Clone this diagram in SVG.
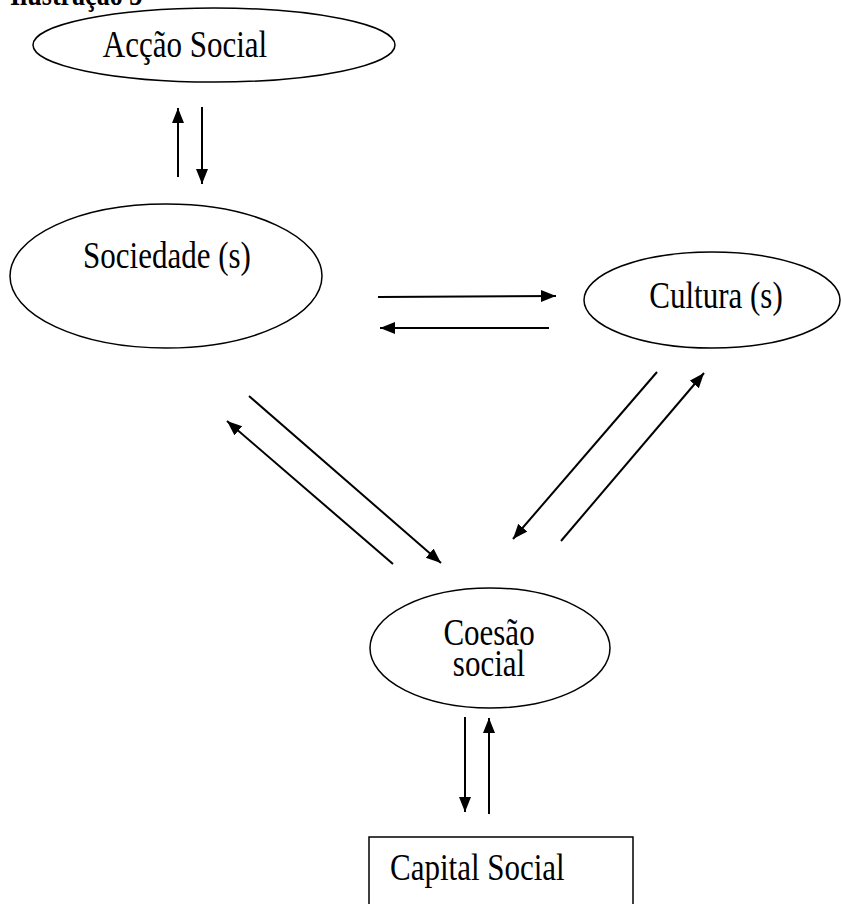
<svg xmlns="http://www.w3.org/2000/svg" width="841" height="904" viewBox="0 0 841 904">
<style>
.n{fill:#fff;stroke:#000;stroke-width:1.5}
.t{font-family:"Liberation Serif","Times New Roman",serif;font-size:31px;fill:#000}
.c{stroke:#000;stroke-width:2;fill:none;marker-end:url(#ah)}
</style>
<defs>
<marker id="ah" markerUnits="userSpaceOnUse" markerWidth="16" markerHeight="13" refX="15" refY="6" orient="auto">
<path d="M0,0 L15,6 L0,12 z" fill="#000"/>
</marker>
</defs>
<rect width="841" height="904" fill="#fff"/>
<text transform="translate(10,5) scale(1,1.25)" style="font-family:'Liberation Serif',serif;font-size:26px;font-weight:bold">Ilustração 3</text>
<g id="accao">
<ellipse class="n" cx="214" cy="45" rx="181" ry="37"/>
<text class="t" text-anchor="middle" transform="translate(185,57) scale(1,1.25)">Acção Social</text>
</g>
<g id="sociedade">
<ellipse class="n" cx="166" cy="276" rx="156" ry="72"/>
<text class="t" text-anchor="middle" transform="translate(167,268) scale(1,1.25)">Sociedade (s)</text>
</g>
<g id="cultura">
<ellipse class="n" cx="712" cy="300" rx="128" ry="48"/>
<text class="t" text-anchor="middle" transform="translate(716,308) scale(1,1.25)">Cultura (s)</text>
</g>
<g id="coesao">
<ellipse class="n" cx="490" cy="648" rx="120" ry="60"/>
<text class="t" text-anchor="middle" transform="translate(489,645) scale(1,1.25)">Coesão</text>
<text class="t" text-anchor="middle" transform="translate(489,676) scale(1,1.25)">social</text>
</g>
<g id="capital">
<path class="n" d="M369,906 V837 H633 V906"/>
<text class="t" transform="translate(390,880) scale(1,1.25)">Capital Social</text>
</g>
<g id="connectors">
<line class="c" x1="178" y1="177" x2="178" y2="108"/>
<line class="c" x1="202" y1="107" x2="202" y2="184"/>
<line class="c" x1="378" y1="297" x2="556" y2="296"/>
<line class="c" x1="549" y1="328" x2="380" y2="328"/>
<line class="c" x1="249" y1="396" x2="441" y2="563"/>
<line class="c" x1="393" y1="564" x2="227" y2="421"/>
<line class="c" x1="657" y1="372" x2="513" y2="539"/>
<line class="c" x1="561" y1="541" x2="704" y2="373"/>
<line class="c" x1="465" y1="717" x2="465" y2="812"/>
<line class="c" x1="489" y1="814" x2="489" y2="718"/>
</g>
</svg>
